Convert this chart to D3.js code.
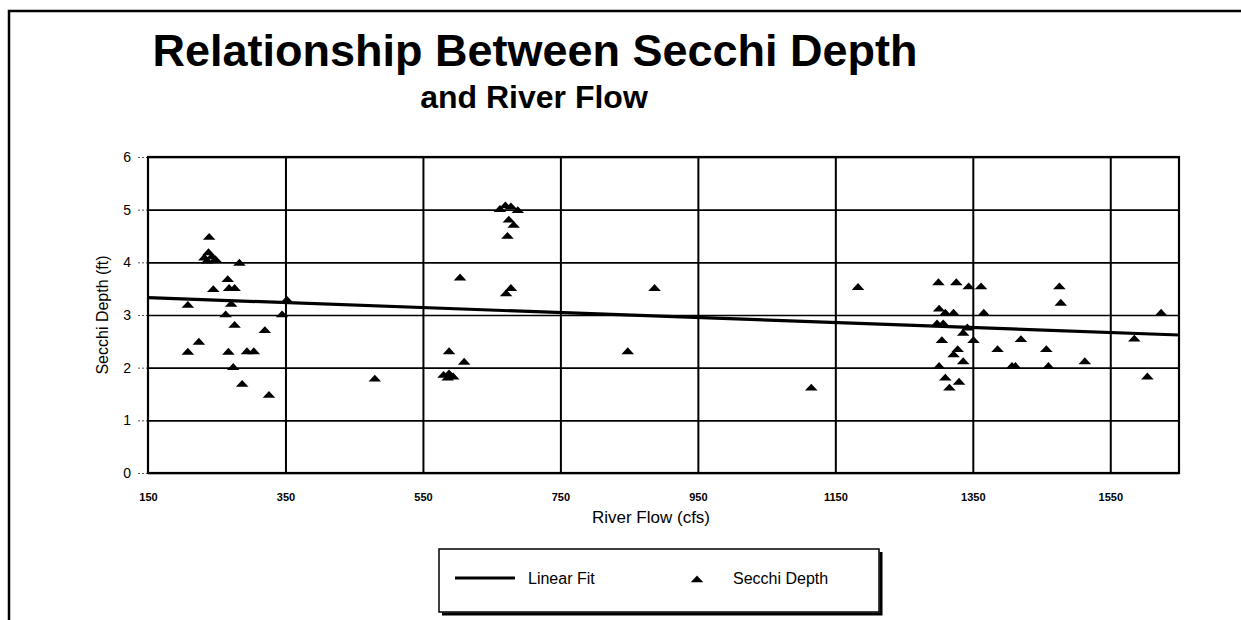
<!DOCTYPE html>
<html>
<head>
<meta charset="utf-8">
<script src="https://cdn.jsdelivr.net/npm/d3@7"></script>
<style>
  body { margin: 0; background: #fff; }
  text { font-family: "Liberation Sans", Arial, sans-serif; fill: #000; }
</style>
</head>
<body>
<div id="chart"></div>
<script>
// river flow (cfs) / secchi depth (ft) pairs
const flow = [
  239, 232, 238, 243, 248, 236, 283, 266, 245, 268, 276, 208, 271, 263, 345, 352,
  276, 320, 224, 208, 267, 294, 304, 274, 287, 326, 480,
  662, 670, 678, 688, 675, 682, 673, 604, 678, 671, 887, 588, 610, 580, 588, 594, 586, 848,
  1115, 1183, 1300, 1326, 1344, 1362, 1476, 1478, 1301, 1310, 1322, 1366, 1624, 1298, 1307,
  1336, 1342, 1585, 1305, 1351, 1420, 1386, 1457, 1328, 1322, 1336, 1513, 1301, 1407, 1412,
  1460, 1310, 1330, 1316, 1604
];
const depth = [
  4.47, 4.08, 4.18, 4.10, 4.05, 4.02, 3.98, 3.67, 3.48, 3.50, 3.50, 3.18, 3.20, 3.00, 3.00, 3.28,
  2.80, 2.70, 2.48, 2.29, 2.29, 2.30, 2.30, 2.00, 1.68, 1.47, 1.78,
  5.00, 5.07, 5.05, 4.98, 4.80, 4.70, 4.49, 3.70, 3.50, 3.40, 3.50, 2.30, 2.10, 1.85, 1.88, 1.82, 1.80, 2.30,
  1.61, 3.52, 3.61, 3.61, 3.53, 3.53, 3.53, 3.22, 3.11, 3.03, 3.03, 3.03, 3.03, 2.83, 2.83,
  2.65, 2.75, 2.54, 2.51, 2.51, 2.53, 2.34, 2.34, 2.34, 2.24, 2.11, 2.11, 2.02, 2.02, 2.02,
  2.02, 1.80, 1.72, 1.61, 1.82
];

// linear fit end points
const fitFlow = [150, 1650];
const fitDepth = [3.33, 2.62];

const xTicks = [150, 350, 550, 750, 950, 1150, 1350, 1550];
const yTicks = [0, 1, 2, 3, 4, 5, 6];

const W = 1241, H = 620;
const margin = {top: 157, left: 148};
const width = 1031, height = 316;

const svg = d3.select("#chart")
  .append("svg")
  .attr("width", W)
  .attr("height", H);

// page frame (top and left edge of the scanned box)
svg.append("path")
  .attr("d", `M9,${H} V11 H${W}`)
  .attr("fill", "none")
  .attr("stroke", "#000")
  .attr("stroke-width", 2.5);

// titles
svg.append("text")
  .attr("x", 535).attr("y", 66)
  .attr("text-anchor", "middle")
  .attr("font-size", 45).attr("font-weight", "bold")
  .text("Relationship Between Secchi Depth");
svg.append("text")
  .attr("x", 534).attr("y", 108)
  .attr("text-anchor", "middle")
  .attr("font-size", 32).attr("font-weight", "bold")
  .text("and River Flow");

const g = svg.append("g")
  .attr("transform", `translate(${margin.left},${margin.top})`);

const x = d3.scaleLinear().domain([150, 1650]).range([0, width]);
const y = d3.scaleLinear().domain([0, 6]).range([height, 0]);

// horizontal grid
g.append("g")
  .attr("class", "grid")
  .call(d3.axisLeft(y).tickValues(yTicks).tickSize(-width).tickFormat(""))
  .call(s => s.select(".domain").remove())
  .selectAll("line")
  .attr("stroke", "#000")
  .attr("stroke-width", 1.6);

// vertical grid
g.append("g")
  .attr("class", "grid")
  .attr("transform", `translate(0,${height})`)
  .call(d3.axisBottom(x).tickValues(xTicks.slice(1)).tickSize(-height).tickFormat(""))
  .call(s => s.select(".domain").remove())
  .selectAll("line")
  .attr("stroke", "#000")
  .attr("stroke-width", 2);

// y axis labels with the little dotted ticks
const yAxis = g.append("g")
  .call(d3.axisLeft(y).tickValues(yTicks).tickSize(11).tickPadding(6).tickFormat(d3.format("d")))
  .call(s => s.select(".domain").remove());
yAxis.selectAll("line")
  .attr("stroke", "#555")
  .attr("stroke-dasharray", "2,2");
yAxis.selectAll("text")
  .attr("font-size", 14)
  .style("font-family", "Liberation Sans, Arial, sans-serif");

// x axis labels
const xAxis = g.append("g")
  .attr("transform", `translate(0,${height})`)
  .call(d3.axisBottom(x).tickValues(xTicks).tickSize(0).tickPadding(20).tickFormat(d3.format("d")))
  .call(s => s.select(".domain").remove());
xAxis.selectAll("text")
  .attr("font-size", 11)
  .attr("font-weight", "bold")
  .style("font-family", "Liberation Sans, Arial, sans-serif");

// plot border
g.append("rect")
  .attr("width", width).attr("height", height)
  .attr("fill", "none")
  .attr("stroke", "#000")
  .attr("stroke-width", 2.2);

// linear fit
g.append("path")
  .datum(fitFlow.map((f, i) => [f, fitDepth[i]]))
  .attr("d", d3.line().x(d => x(d[0])).y(d => y(d[1])))
  .attr("fill", "none")
  .attr("stroke", "#000")
  .attr("stroke-width", 3.2);

// triangles
const tri = d3.symbol(d3.symbolTriangle, 52);
g.selectAll(".pt")
  .data(flow.map((f, i) => ({f: f, d: depth[i]})))
  .enter()
  .append("path")
  .attr("class", "pt")
  .attr("d", tri)
  .attr("transform", d => `translate(${x(d.f)},${y(d.d)}) scale(1.15,0.72)`)
  .attr("fill", "#000");

// axis titles
svg.append("text")
  .attr("x", 651).attr("y", 523)
  .attr("text-anchor", "middle")
  .attr("font-size", 17)
  .text("River Flow (cfs)");

svg.append("text")
  .attr("transform", `translate(108,${margin.top + height / 2}) rotate(-90)`)
  .attr("text-anchor", "middle")
  .attr("font-size", 16)
  .text("Secchi Depth (ft)");

// legend
const legend = svg.append("g");
legend.append("path")
  .attr("d", "M442,614 H881 V552")
  .attr("fill", "none")
  .attr("stroke", "#000")
  .attr("stroke-width", 3);
legend.append("rect")
  .attr("x", 439).attr("y", 549)
  .attr("width", 440).attr("height", 63)
  .attr("fill", "#fff")
  .attr("stroke", "#000")
  .attr("stroke-width", 1.5);
legend.append("line")
  .attr("x1", 455).attr("x2", 515)
  .attr("y1", 578).attr("y2", 578)
  .attr("stroke", "#000").attr("stroke-width", 3);
legend.append("text")
  .attr("x", 528).attr("y", 584)
  .attr("font-size", 16)
  .text("Linear Fit");
legend.append("path")
  .attr("d", tri)
  .attr("transform", "translate(697,580) scale(1.15,0.72)")
  .attr("fill", "#000");
legend.append("text")
  .attr("x", 733).attr("y", 584)
  .attr("font-size", 16)
  .text("Secchi Depth");
</script>
</body>
</html>
